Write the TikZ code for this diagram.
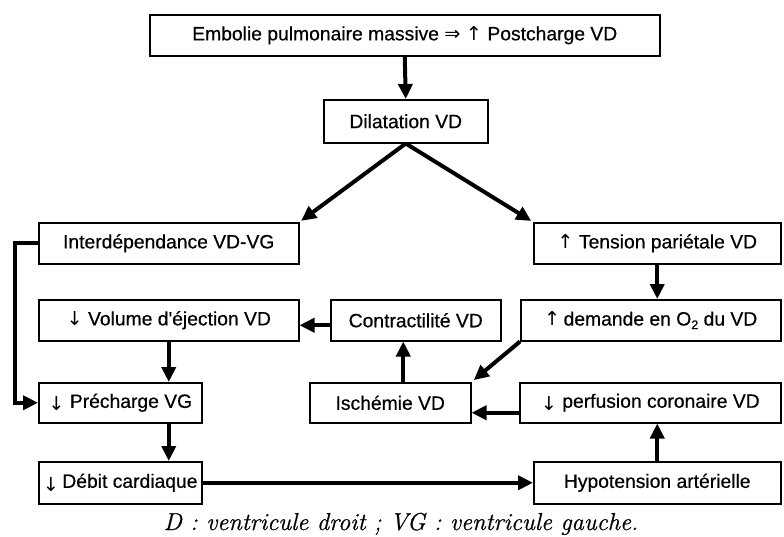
\documentclass[tikz,border=0pt]{standalone}
\usepackage{fontspec}
\setmainfont{Liberation Sans}
\newfontfamily\boxf{Liberation Sans}[FakeBold=0.5]
\newfontfamily\symf{DejaVu Sans}
\newfontfamily\capf{Latin Modern Roman}[ItalicFeatures={FakeBold=0.7}]
\usetikzlibrary{arrows.meta}
\newcommand\bx[6]{\node[box, anchor=north west, minimum width={(#4-#2)*1pt}, minimum height={(#5-#3)*1pt}] (#1) at (#2,#3) {#6};}
\newcommand\up{{\symf ↑}}
\newcommand\dn{{\symf ↓}}
\begin{document}
\begin{tikzpicture}[x=1pt,y=-1pt,
  box/.style={draw, line width=1.5pt, inner sep=0pt, font=\boxf\fontsize{19.3}{22}\selectfont},
  arr/.style={line width=4pt, -{Triangle[length=15pt,width=14pt]}}]
\useasboundingbox (0,0) rectangle (784,536);
\bx{top}{149}{14}{659}{55}{Embolie pulmonaire massive {\symf⇒} \up\ Postcharge VD}
\bx{dil}{323}{99}{487}{142}{Dilatation VD}
\bx{inter}{38}{222}{298}{263}{Interdépendance VD-VG}
\bx{tens}{533}{222}{780}{263}{\up\ Tension pariétale VD}
\bx{vol}{38}{299}{298}{340}{\dn\ Volume d'éjection VD}
\bx{contr}{330}{299}{500}{340}{Contractilité VD}
\bx{dem}{520}{299}{780}{340}{\up\,demande en O\raisebox{-0.35ex}{\fontsize{12.5}{14}\selectfont 2} du VD}
\bx{pre}{38}{382}{201}{422}{\raisebox{-0.3ex}{\dn}\ Précharge VG}
\bx{isch}{309}{382}{470}{422}{Ischémie VD}
\bx{perf}{519}{382}{780}{422}{\raisebox{-0.3ex}{\dn}\ perfusion coronaire VD}
\bx{deb}{38}{461}{201}{503}{\raisebox{-0.4ex}{\dn}\,Débit cardiaque}
\bx{hyp}{533}{461}{780}{503}{Hypotension artérielle}
\node[font=\capf\itshape\fontsize{24.5}{28}\selectfont, anchor=base] (cap) at (401,530) {D : ventricule droit ; VG : ventricule gauche.};
\draw[arr] (top.south) -- (dil.north);
\draw[arr, shorten >=2pt] (dil.south) -- (inter.north east);
\draw[arr, shorten >=2pt] (dil.south) -- (tens.north west);
\draw[arr] (inter.west) -- ++(-23,0) |- (pre.west);
\draw[arr] (vol.south) -- (vol.south |- pre.north);
\draw[arr] (pre.south -| vol.south) -- (deb.north -| vol.south);
\draw[arr] (deb.east) -- (hyp.west);
\draw[arr] (hyp.north) -- (hyp.north |- perf.south);
\draw[arr] ([yshift=-10pt]perf.west) -- ([yshift=-10pt]isch.east);
\draw[arr] ([xshift=13pt]isch.north) -- ([xshift=13pt]isch.north |- contr.south);
\draw[arr] ([yshift=-5pt]contr.west) -- ([yshift=-5pt]vol.east);
\draw[arr] (tens.south) -- (tens.south |- dem.north);
\draw[arr, shorten >=3pt] (dem.south west) -- (isch.north east);
\end{tikzpicture}
\end{document}
